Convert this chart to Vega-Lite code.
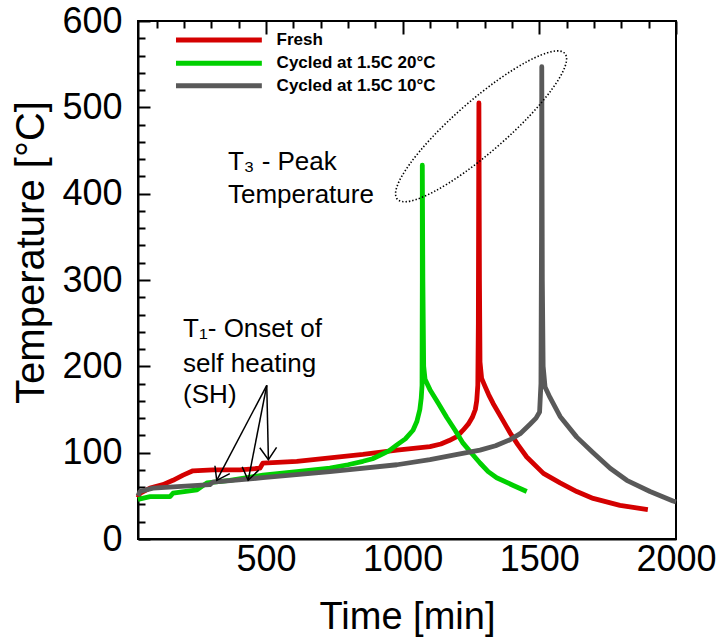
{
  "$schema": "https://vega.github.io/schema/vega-lite/v6.json",
  "width": 538,
  "height": 518,
  "autosize": "none",
  "padding": {"left": 138, "top": 21, "right": 46, "bottom": 104},
  "background": "white",
  "config": {
    "view": {"stroke": "black", "strokeWidth": 2},
    "font": "Liberation Sans",
    "axis": {"labelColor": "black", "titleColor": "black", "domainColor": "black", "tickColor": "black", "labelFont": "Liberation Sans", "titleFont": "Liberation Sans"}
  },
  "resolve": {"axis": {"x": "independent", "y": "independent"}},
  "datasets": {
    "curves": [
      {"series": "Fresh", "i": 1, "t": 32, "temp": 48},
      {"series": "Fresh", "i": 2, "t": 39, "temp": 53},
      {"series": "Fresh", "i": 3, "t": 76, "temp": 59},
      {"series": "Fresh", "i": 4, "t": 123, "temp": 63},
      {"series": "Fresh", "i": 5, "t": 160, "temp": 68},
      {"series": "Fresh", "i": 6, "t": 197, "temp": 74},
      {"series": "Fresh", "i": 7, "t": 233, "temp": 79},
      {"series": "Fresh", "i": 8, "t": 306, "temp": 80},
      {"series": "Fresh", "i": 9, "t": 405, "temp": 80},
      {"series": "Fresh", "i": 10, "t": 478, "temp": 82},
      {"series": "Fresh", "i": 11, "t": 489, "temp": 88},
      {"series": "Fresh", "i": 12, "t": 613, "temp": 90},
      {"series": "Fresh", "i": 13, "t": 734, "temp": 94},
      {"series": "Fresh", "i": 14, "t": 855, "temp": 98},
      {"series": "Fresh", "i": 15, "t": 979, "temp": 103},
      {"series": "Fresh", "i": 16, "t": 1100, "temp": 107},
      {"series": "Fresh", "i": 17, "t": 1140, "temp": 110},
      {"series": "Fresh", "i": 18, "t": 1170, "temp": 114},
      {"series": "Fresh", "i": 19, "t": 1200, "temp": 119},
      {"series": "Fresh", "i": 20, "t": 1221, "temp": 126},
      {"series": "Fresh", "i": 21, "t": 1240, "temp": 133},
      {"series": "Fresh", "i": 22, "t": 1255, "temp": 141},
      {"series": "Fresh", "i": 23, "t": 1266, "temp": 150},
      {"series": "Fresh", "i": 24, "t": 1271, "temp": 160},
      {"series": "Fresh", "i": 25, "t": 1275, "temp": 178},
      {"series": "Fresh", "i": 26, "t": 1277, "temp": 250},
      {"series": "Fresh", "i": 27, "t": 1278, "temp": 380},
      {"series": "Fresh", "i": 28, "t": 1279, "temp": 505},
      {"series": "Fresh", "i": 29, "t": 1281, "temp": 300},
      {"series": "Fresh", "i": 30, "t": 1283, "temp": 205},
      {"series": "Fresh", "i": 31, "t": 1289, "temp": 186},
      {"series": "Fresh", "i": 32, "t": 1301, "temp": 177},
      {"series": "Fresh", "i": 33, "t": 1315, "temp": 167},
      {"series": "Fresh", "i": 34, "t": 1331, "temp": 157},
      {"series": "Fresh", "i": 35, "t": 1362, "temp": 140},
      {"series": "Fresh", "i": 36, "t": 1393, "temp": 123},
      {"series": "Fresh", "i": 37, "t": 1422, "temp": 109},
      {"series": "Fresh", "i": 38, "t": 1454, "temp": 95},
      {"series": "Fresh", "i": 39, "t": 1515, "temp": 76},
      {"series": "Fresh", "i": 40, "t": 1576, "temp": 65},
      {"series": "Fresh", "i": 41, "t": 1637, "temp": 55},
      {"series": "Fresh", "i": 42, "t": 1697, "temp": 47},
      {"series": "Fresh", "i": 43, "t": 1795, "temp": 39},
      {"series": "Fresh", "i": 44, "t": 1897, "temp": 34},
      {"series": "Cycled at 1.5C 20°C", "i": 1, "t": 32, "temp": 46},
      {"series": "Cycled at 1.5C 20°C", "i": 2, "t": 76, "temp": 49},
      {"series": "Cycled at 1.5C 20°C", "i": 3, "t": 149, "temp": 49},
      {"series": "Cycled at 1.5C 20°C", "i": 4, "t": 160, "temp": 53},
      {"series": "Cycled at 1.5C 20°C", "i": 5, "t": 248, "temp": 57},
      {"series": "Cycled at 1.5C 20°C", "i": 6, "t": 284, "temp": 65},
      {"series": "Cycled at 1.5C 20°C", "i": 7, "t": 368, "temp": 68},
      {"series": "Cycled at 1.5C 20°C", "i": 8, "t": 431, "temp": 71},
      {"series": "Cycled at 1.5C 20°C", "i": 9, "t": 489, "temp": 74},
      {"series": "Cycled at 1.5C 20°C", "i": 10, "t": 613, "temp": 78},
      {"series": "Cycled at 1.5C 20°C", "i": 11, "t": 734, "temp": 82},
      {"series": "Cycled at 1.5C 20°C", "i": 12, "t": 800, "temp": 86},
      {"series": "Cycled at 1.5C 20°C", "i": 13, "t": 855, "temp": 90},
      {"series": "Cycled at 1.5C 20°C", "i": 14, "t": 890, "temp": 93},
      {"series": "Cycled at 1.5C 20°C", "i": 15, "t": 917, "temp": 97},
      {"series": "Cycled at 1.5C 20°C", "i": 16, "t": 950, "temp": 102},
      {"series": "Cycled at 1.5C 20°C", "i": 17, "t": 979, "temp": 109},
      {"series": "Cycled at 1.5C 20°C", "i": 18, "t": 1010, "temp": 116},
      {"series": "Cycled at 1.5C 20°C", "i": 19, "t": 1038, "temp": 126},
      {"series": "Cycled at 1.5C 20°C", "i": 20, "t": 1052, "temp": 136},
      {"series": "Cycled at 1.5C 20°C", "i": 21, "t": 1063, "temp": 150},
      {"series": "Cycled at 1.5C 20°C", "i": 22, "t": 1068, "temp": 163},
      {"series": "Cycled at 1.5C 20°C", "i": 23, "t": 1071, "temp": 178},
      {"series": "Cycled at 1.5C 20°C", "i": 24, "t": 1072, "temp": 300},
      {"series": "Cycled at 1.5C 20°C", "i": 25, "t": 1072, "temp": 433},
      {"series": "Cycled at 1.5C 20°C", "i": 26, "t": 1074, "temp": 300},
      {"series": "Cycled at 1.5C 20°C", "i": 27, "t": 1077, "temp": 200},
      {"series": "Cycled at 1.5C 20°C", "i": 28, "t": 1082, "temp": 185},
      {"series": "Cycled at 1.5C 20°C", "i": 29, "t": 1100, "temp": 173},
      {"series": "Cycled at 1.5C 20°C", "i": 30, "t": 1131, "temp": 157},
      {"series": "Cycled at 1.5C 20°C", "i": 31, "t": 1161, "temp": 141},
      {"series": "Cycled at 1.5C 20°C", "i": 32, "t": 1192, "temp": 126},
      {"series": "Cycled at 1.5C 20°C", "i": 33, "t": 1221, "temp": 111},
      {"series": "Cycled at 1.5C 20°C", "i": 34, "t": 1253, "temp": 99},
      {"series": "Cycled at 1.5C 20°C", "i": 35, "t": 1283, "temp": 88},
      {"series": "Cycled at 1.5C 20°C", "i": 36, "t": 1313, "temp": 78},
      {"series": "Cycled at 1.5C 20°C", "i": 37, "t": 1344, "temp": 71},
      {"series": "Cycled at 1.5C 20°C", "i": 38, "t": 1405, "temp": 62},
      {"series": "Cycled at 1.5C 20°C", "i": 39, "t": 1454, "temp": 55},
      {"series": "Cycled at 1.5C 10°C", "i": 1, "t": 32, "temp": 50},
      {"series": "Cycled at 1.5C 10°C", "i": 2, "t": 39, "temp": 55},
      {"series": "Cycled at 1.5C 10°C", "i": 3, "t": 87, "temp": 59},
      {"series": "Cycled at 1.5C 10°C", "i": 4, "t": 295, "temp": 63},
      {"series": "Cycled at 1.5C 10°C", "i": 5, "t": 306, "temp": 66},
      {"series": "Cycled at 1.5C 10°C", "i": 6, "t": 489, "temp": 71},
      {"series": "Cycled at 1.5C 10°C", "i": 7, "t": 734, "temp": 78},
      {"series": "Cycled at 1.5C 10°C", "i": 8, "t": 979, "temp": 86},
      {"series": "Cycled at 1.5C 10°C", "i": 9, "t": 1100, "temp": 92},
      {"series": "Cycled at 1.5C 10°C", "i": 10, "t": 1200, "temp": 98},
      {"series": "Cycled at 1.5C 10°C", "i": 11, "t": 1283, "temp": 103},
      {"series": "Cycled at 1.5C 10°C", "i": 12, "t": 1340, "temp": 108},
      {"series": "Cycled at 1.5C 10°C", "i": 13, "t": 1393, "temp": 115},
      {"series": "Cycled at 1.5C 10°C", "i": 14, "t": 1430, "temp": 122},
      {"series": "Cycled at 1.5C 10°C", "i": 15, "t": 1466, "temp": 133},
      {"series": "Cycled at 1.5C 10°C", "i": 16, "t": 1488, "temp": 140},
      {"series": "Cycled at 1.5C 10°C", "i": 17, "t": 1501, "temp": 147},
      {"series": "Cycled at 1.5C 10°C", "i": 18, "t": 1506, "temp": 180},
      {"series": "Cycled at 1.5C 10°C", "i": 19, "t": 1508, "temp": 350},
      {"series": "Cycled at 1.5C 10°C", "i": 20, "t": 1509, "temp": 547},
      {"series": "Cycled at 1.5C 10°C", "i": 21, "t": 1511, "temp": 300},
      {"series": "Cycled at 1.5C 10°C", "i": 22, "t": 1514, "temp": 200},
      {"series": "Cycled at 1.5C 10°C", "i": 23, "t": 1521, "temp": 176},
      {"series": "Cycled at 1.5C 10°C", "i": 24, "t": 1539, "temp": 164},
      {"series": "Cycled at 1.5C 10°C", "i": 25, "t": 1576, "temp": 142},
      {"series": "Cycled at 1.5C 10°C", "i": 26, "t": 1637, "temp": 118},
      {"series": "Cycled at 1.5C 10°C", "i": 27, "t": 1697, "temp": 100},
      {"series": "Cycled at 1.5C 10°C", "i": 28, "t": 1759, "temp": 82},
      {"series": "Cycled at 1.5C 10°C", "i": 29, "t": 1820, "temp": 68},
      {"series": "Cycled at 1.5C 10°C", "i": 30, "t": 1905, "temp": 55},
      {"series": "Cycled at 1.5C 10°C", "i": 31, "t": 1989, "temp": 44},
      {"series": "Cycled at 1.5C 10°C", "i": 32, "t": 2000, "temp": 43}
    ],
    "legend": [
      {"series": "Fresh", "x1": 171, "x2": 485, "tx": 539, "ly": 578},
      {"series": "Cycled at 1.5C 20°C", "x1": 171, "x2": 485, "tx": 539, "ly": 551},
      {"series": "Cycled at 1.5C 10°C", "x1": 171, "x2": 485, "tx": 539, "ly": 525}
    ],
    "notes": [
      {"label": "T₃ - Peak", "x": 361, "y": 427},
      {"label": "Temperature", "x": 361, "y": 389},
      {"label": "T₁- Onset of", "x": 197, "y": 234},
      {"label": "self heating", "x": 197, "y": 194},
      {"label": "(SH)", "x": 197, "y": 157}
    ],
    "arrows": [
      {"x": 503, "y": 178, "x2": 320, "y2": 68},
      {"x": 503, "y": 178, "x2": 435, "y2": 68},
      {"x": 503, "y": 178, "x2": 509, "y2": 92}
    ]
  },
  "layer": [
    {
      "data": {"name": "curves"},
      "mark": {"type": "line", "strokeWidth": 4.8, "strokeJoin": "round"},
      "encoding": {
        "x": {"field": "t", "type": "quantitative",
          "scale": {"domain": [32, 2000], "nice": false, "zero": false},
          "axis": {"orient": "bottom", "values": [100, 200, 300, 400, 500, 600, 700, 800, 900, 1000, 1100, 1200, 1300, 1400, 1500, 1600, 1700, 1800, 1900, 2000], "format": "d",
            "labelExpr": "datum.value % 500 === 0 ? datum.label : ''",
            "ticks": false, "domainWidth": 2,
            "grid": true, "gridColor": "black", "gridOpacity": 1, "gridWidth": 2,
            "gridDash": {"condition": {"test": "datum.value % 500 === 0", "value": [13, 3000]}, "value": [7, 3000]},
            "labelFontSize": 36, "labelPadding": 3, "labelFlush": false, "labelOverlap": false,
            "title": "Time [min]", "titleFontSize": 38, "titleFontWeight": "normal", "titleBaseline": "alphabetic", "titleY": 89, "titleX": 269, "titleAlign": "center"}},
        "y": {"field": "temp", "type": "quantitative",
          "scale": {"domain": [0, 600], "nice": false},
          "axis": {"orient": "left", "values": [0, 20, 40, 60, 80, 100, 120, 140, 160, 180, 200, 220, 240, 260, 280, 300, 320, 340, 360, 380, 400, 420, 440, 460, 480, 500, 520, 540, 560, 580, 600], "format": "d",
            "labelExpr": "datum.value % 100 === 0 ? datum.label : ''",
            "ticks": false, "domainWidth": 2,
            "grid": true, "gridColor": "black", "gridOpacity": 1, "gridWidth": 2,
            "gridDash": {"condition": {"test": "datum.value % 100 === 0", "value": [12, 3000]}, "value": [7, 3000]},
            "labelFontSize": 36, "labelPadding": 16, "labelOverlap": false, "labelFlush": false,
            "title": "Temperature [°C]", "titleFontSize": 40, "titleFontWeight": "normal", "titleAngle": -90, "titleBaseline": "alphabetic", "titleAlign": "center", "titleX": -95, "titleY": 231}},
        "color": {"field": "series", "type": "nominal",
          "scale": {"domain": ["Fresh", "Cycled at 1.5C 20°C", "Cycled at 1.5C 10°C"], "range": ["#d40000", "#00d000", "#595959"]},
          "legend": null},
        "order": {"field": "i", "type": "quantitative"}
      }
    },
    {
      "data": {"name": "legend"},
      "mark": {"type": "rule", "strokeWidth": 5},
      "encoding": {
        "x": {"field": "x1", "type": "quantitative", "axis": null},
        "x2": {"field": "x2"},
        "y": {"field": "ly", "type": "quantitative", "axis": null},
        "color": {"field": "series", "type": "nominal", "legend": null}
      }
    },
    {
      "data": {"name": "legend"},
      "mark": {"type": "text", "fontSize": 17, "fontWeight": "bold", "font": "Liberation Sans", "align": "left", "baseline": "middle", "color": "black"},
      "encoding": {
        "x": {"field": "tx", "type": "quantitative", "axis": null},
        "y": {"field": "ly", "type": "quantitative", "axis": null},
        "text": {"field": "series"}
      }
    },
    {
      "data": {"name": "notes"},
      "mark": {"type": "text", "fontSize": 26, "font": "Liberation Sans", "align": "left", "baseline": "alphabetic", "color": "black"},
      "encoding": {
        "x": {"field": "x", "type": "quantitative", "axis": null},
        "y": {"field": "y", "type": "quantitative", "axis": null},
        "text": {"field": "label"}
      }
    },
    {
      "data": {"name": "arrows"},
      "mark": {"type": "rule", "strokeWidth": 1.5, "color": "black"},
      "encoding": {
        "x": {"field": "x", "type": "quantitative", "axis": null},
        "y": {"field": "y", "type": "quantitative", "axis": null},
        "x2": {"field": "x2"},
        "y2": {"field": "y2"}
      }
    },
    {
      "data": {"values": [{"x": 320, "y": 68}]},
      "mark": {"type": "point", "shape": "M-0.7,-1L0,0L0.7,-1", "size": 576, "angle": 28, "filled": false, "stroke": "black", "strokeWidth": 1.5, "opacity": 1},
      "encoding": {
        "x": {"field": "x", "type": "quantitative", "axis": null},
        "y": {"field": "y", "type": "quantitative", "axis": null}
      }
    },
    {
      "data": {"values": [{"x": 435, "y": 68}]},
      "mark": {"type": "point", "shape": "M-0.7,-1L0,0L0.7,-1", "size": 576, "angle": 11, "filled": false, "stroke": "black", "strokeWidth": 1.5, "opacity": 1},
      "encoding": {
        "x": {"field": "x", "type": "quantitative", "axis": null},
        "y": {"field": "y", "type": "quantitative", "axis": null}
      }
    },
    {
      "data": {"values": [{"x": 509, "y": 92}]},
      "mark": {"type": "point", "shape": "M-0.7,-1L0,0L0.7,-1", "size": 576, "angle": 359, "filled": false, "stroke": "black", "strokeWidth": 1.5, "opacity": 1},
      "encoding": {
        "x": {"field": "x", "type": "quantitative", "axis": null},
        "y": {"field": "y", "type": "quantitative", "axis": null}
      }
    },
    {
      "data": {"values": [{"x": 1287, "y": 478}]},
      "mark": {"type": "point", "shape": "M-1,0A1,0.234,0,1,1,1,0A1,0.234,0,1,1,-1,0Z", "size": 49284, "angle": 319, "filled": false, "stroke": "black", "strokeWidth": 1.6, "strokeDash": [1.4, 2], "opacity": 1},
      "encoding": {
        "x": {"field": "x", "type": "quantitative", "axis": null},
        "y": {"field": "y", "type": "quantitative", "axis": null}
      }
    }
  ]
}
